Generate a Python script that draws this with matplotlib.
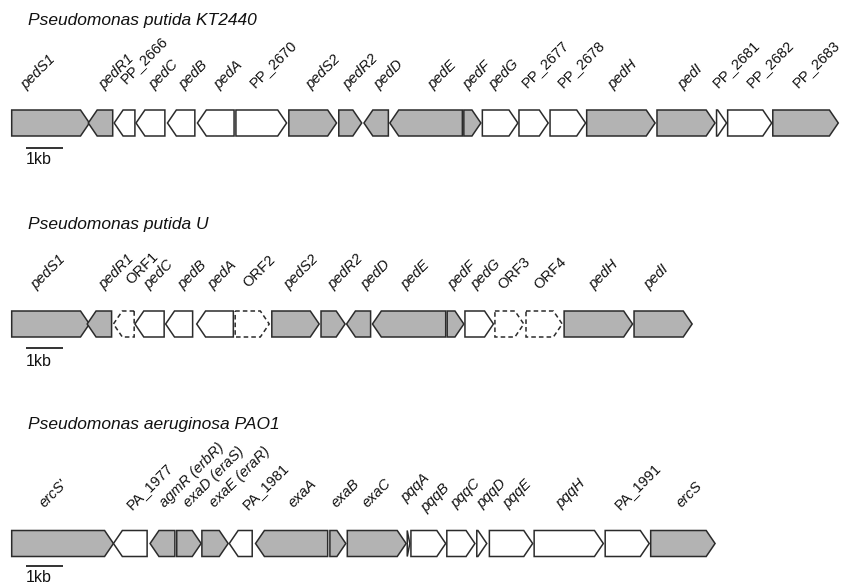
import matplotlib
matplotlib.use("Agg")
import matplotlib.pyplot as plt
from matplotlib.patches import Polygon

plt.rcParams['font.family'] = ['Liberation Sans', 'DejaVu Sans']

# ---------------------------------------------------------------------------
# Gene clusters: start / end in kb, strand (+1 forward, -1 reverse),
# kind: 'g' = shaded, 'w' = open, 'o' = putative ORF (dashed outline)
# ---------------------------------------------------------------------------
kt_titles = "Pseudomonas putida KT2440"
kt_genes = ["pedS1", "pedR1", "PP_2666", "pedC", "pedB", "pedA", "PP_2670",
            "pedS2", "pedR2", "pedD", "pedE", "pedF", "pedG", "PP_2677",
            "PP_2678", "pedH", "pedI", "PP_2681", "PP_2682", "PP_2683"]
kt_start = [0.00, 2.07, 2.77, 3.36, 4.21, 5.02, 6.06, 7.49, 8.84, 9.52,
            10.22, 12.22, 12.72, 13.71, 14.55, 15.54, 17.44, 19.05, 19.35, 20.57]
kt_end = [2.10, 2.73, 3.33, 4.14, 4.95, 6.01, 7.43, 8.78, 9.46, 10.18,
          12.18, 12.68, 13.68, 14.50, 15.51, 17.39, 19.01, 19.32, 20.54, 22.34]
kt_strand = [1, -1, -1, -1, -1, -1, 1, 1, 1, -1,
             -1, 1, 1, 1, 1, 1, 1, 1, 1, 1]
kt_kind = ['g', 'g', 'w', 'w', 'w', 'w', 'w', 'g', 'g', 'g',
           'g', 'g', 'w', 'w', 'w', 'g', 'g', 'w', 'w', 'g']

u_title = "Pseudomonas putida U"
u_genes = ["pedS1", "pedR1", "ORF1", "pedC", "pedB", "pedA", "ORF2", "pedS2",
           "pedR2", "pedD", "pedE", "pedF", "pedG", "ORF3", "ORF4", "pedH", "pedI"]
u_start = [0.00, 2.04, 2.75, 3.33, 4.16, 5.00, 6.04, 7.03, 8.36, 9.05,
           9.75, 11.77, 12.25, 13.06, 13.90, 14.93, 16.82]
u_end = [2.10, 2.70, 3.31, 4.12, 4.89, 5.99, 6.96, 8.31, 9.01, 9.70,
         11.73, 12.22, 13.02, 13.84, 14.88, 16.78, 18.39]
u_strand = [1, -1, -1, -1, -1, -1, 1, 1, 1, -1,
            -1, 1, 1, 1, 1, 1, 1]
u_kind = ['g', 'g', 'o', 'w', 'w', 'w', 'o', 'g', 'g', 'g',
          'g', 'g', 'w', 'o', 'o', 'g', 'g']

pa_title = "Pseudomonas aeruginosa PAO1"
pa_genes = ["ercS'", "PA_1977", "agmR (erbR)", "exaD (eraS)", "exaE (eraR)",
            "PA_1981", "exaA", "exaB", "exaC", "pqqA", "pqqB", "pqqC", "pqqD",
            "pqqE", "pqqH", "PA_1991", "ercS"]
pa_start = [0.00, 2.75, 3.74, 4.46, 5.14, 5.88, 6.59, 8.60, 9.07, 10.69,
            10.79, 11.76, 12.57, 12.91, 14.12, 16.04, 17.27]
pa_end = [2.75, 3.66, 4.41, 5.12, 5.85, 6.50, 8.54, 9.03, 10.66, 10.76,
          11.73, 12.52, 12.84, 14.08, 15.99, 17.23, 19.01]
pa_strand = [1, -1, -1, 1, 1, -1, -1, 1, 1, 1,
             1, 1, 1, 1, 1, 1, 1]
pa_kind = ['g', 'w', 'g', 'g', 'g', 'w', 'g', 'g', 'g', 'w',
           'w', 'w', 'w', 'w', 'w', 'w', 'g']

scale_kb = 1.0

# ---------------------------------------------------------------------------
# Layout (pixel units on a 844 x 585 canvas)
# ---------------------------------------------------------------------------
W, H = 844, 585
X0, PX_PER_KB = 11.7, 37.0
ARROW_H = 26.0
HEAD_KB = 0.24
LAB_DX = 3.0

rows = [
    dict(title=kt_titles, genes=kt_genes, start=kt_start, end=kt_end,
         strand=kt_strand, kind=kt_kind, title_y=20, yc=123, bar_y=148.3,
         bar_txt_y=160,
         lab_px=[23, 101.7, 123, 151.7, 181.7, 216.7, 251.7, 308, 345, 376.7,
                 430, 465, 491.7, 523.3, 560, 610, 680, 715, 748.3, 795],
         lab_y=[90, 90, 84, 90, 90, 90, 88, 90, 90, 90,
                90, 90, 90, 88, 88, 90, 90, 88, 88, 88]),
    dict(title=u_title, genes=u_genes, start=u_start, end=u_end,
         strand=u_strand, kind=u_kind, title_y=225, yc=324, bar_y=348.3,
         bar_txt_y=361.7,
         lab_px=[33.3, 101.7, 128.3, 146.7, 180, 210, 245, 286.7, 330, 363.3,
                 403.3, 450, 473.3, 500, 536.7, 591.7, 646.7],
         lab_y=[290, 290, 285, 290, 290, 290, 288, 290, 290, 290,
                290, 290, 290, 290, 290, 290, 290]),
    dict(title=pa_title, genes=pa_genes, start=pa_start, end=pa_end,
         strand=pa_strand, kind=pa_kind, title_y=425, yc=543.5, bar_y=565.7,
         bar_txt_y=577.5,
         lab_px=[41.7, 128.3, 161.7, 186, 211.7, 245, 290, 333.3, 365, 403.3,
                 423.3, 453.3, 479.3, 505, 558.3, 616.7, 678.3],
         lab_y=[508, 510, 508, 508, 508, 510, 508, 508, 508, 503,
                513, 509, 509, 509, 509, 510, 508]),
]

GRAY = '#b3b3b3'
EDGE = '#2b2b2b'
INK = '#111111'


def px_to_kb(px):
    return (px - X0) / PX_PER_KB


def is_italic(name):
    return not (name.startswith("PP_") or name.startswith("PA_")
                or name.startswith("ORF"))


fig = plt.figure(figsize=(W / 100, H / 100), dpi=100)
ax = fig.add_axes([0, 0, 1, 1])
ax.set_xlim(px_to_kb(0), px_to_kb(W))
ax.set_ylim(H, 0)
ax.axis('off')

for row in rows:
    yc = row['yc']
    top, bot = yc - ARROW_H / 2, yc + ARROW_H / 2
    for name, s, e, d, k in zip(row['genes'], row['start'], row['end'],
                                row['strand'], row['kind']):
        head = min(HEAD_KB, e - s)
        if d > 0:
            pts = [(s, top), (e - head, top), (e, yc), (e - head, bot), (s, bot)]
        else:
            pts = [(e, top), (s + head, top), (s, yc), (s + head, bot), (e, bot)]
        fc = GRAY if k == 'g' else 'white'
        ls = (0, (3, 2)) if k == 'o' else 'solid'
        ax.add_patch(Polygon(pts, closed=True, facecolor=fc, edgecolor=EDGE,
                             linewidth=1.1, linestyle=ls, joinstyle='miter'))

    for name, lx, ly in zip(row['genes'], row['lab_px'], row['lab_y']):
        ax.text(px_to_kb(lx + LAB_DX), ly, name, rotation=45,
                rotation_mode='anchor', ha='left', va='baseline', fontsize=10.5,
                style='italic' if is_italic(name) else 'normal', color=INK)

    ax.text(px_to_kb(28), row['title_y'], row['title'], ha='left', va='center',
            fontsize=12.5, style='italic', color=INK)

    bar_x = px_to_kb(26)
    ax.plot([bar_x, bar_x + scale_kb], [row['bar_y'], row['bar_y']],
            color=INK, linewidth=1.2, solid_capstyle='butt')
    ax.text(bar_x, row['bar_txt_y'], "1kb", ha='left', va='center',
            fontsize=11.5, color=INK)

fig.savefig("out.png", dpi=100)
